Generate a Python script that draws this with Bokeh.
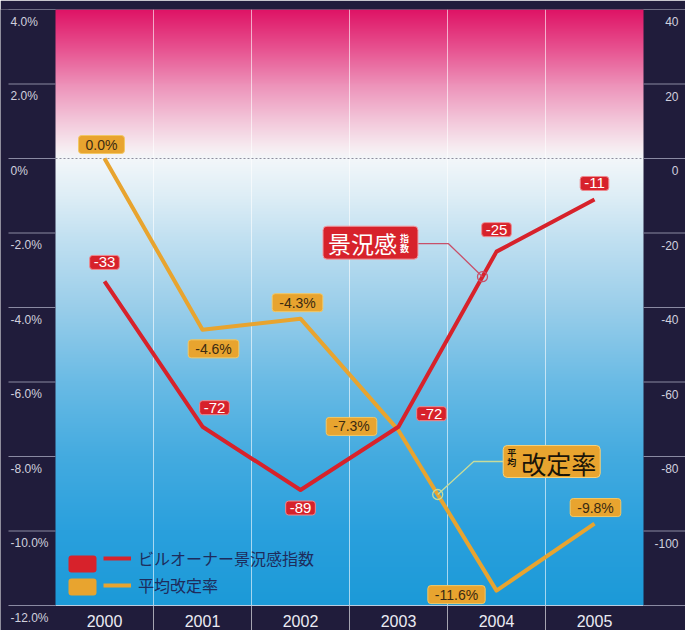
import numpy as np
from bokeh.plotting import figure
from bokeh.models import Range1d, FixedTicker, Legend, LegendItem
from bokeh.core.properties import value
from bokeh.embed import file_html
from bokeh.resources import INLINE

# ---------------- data ----------------
years = ["2000", "2001", "2002", "2003", "2004", "2005"]
index_values = [-33, -72, -89, -72, -25, -11]          # ビルオーナー景況感指数 (right scale)
rate_values = [0.0, -4.6, -4.3, -7.3, -11.6, -9.8]     # 平均改定率 % (left scale)
index_labels = ["-33", "-72", "-89", "-72", "-25", "-11"]
rate_labels = ["0.0%", "-4.6%", "-4.3%", "-7.3%", "-11.6%", "-9.8%"]
left_ticks = [4, 2, 0, -2, -4, -6, -8, -10, -12]
left_tick_labels = ["4.0%", "2.0%", "0%", "-2.0%", "-4.0%", "-6.0%", "-8.0%", "-10.0%", "-12.0%"]
right_ticks = [40, 20, 0, -20, -40, -60, -80, -100, -120]
right_tick_labels = ["40", "20", "0", "-20", "-40", "-60", "-80", "-100"]
series_names = ["ビルオーナー景況感指数", "平均改定率"]

# ---------------- layout / styling ----------------
W, H = 685, 630
BL, BR, BT, BB = 55, 42, 9, 25           # dark margins around the plotting area
FW, FH = W - BL - BR, H - BT - BB
X0, X1 = -0.5, len(years) - 0.5
Y0, Y1 = -12, 4
R0, R1 = -120, 40
PXU = FW / (X1 - X0)                      # pixels per category
PXY = FH / (Y1 - Y0)                      # pixels per percent
X0e, X1e = X0 - BL / PXU, X1 + BR / PXU   # frame covers the dark margins too
Y0e = Y0 - BB / PXY
K = (R1 - R0) / (Y1 - Y0)
R0e = R1 - (Y1 - Y0e) * K
DARK = "#201c3b"
RED = "#d7222b"
ORANGE = "#e8a42f"
TICK = "#8a8aa2"
NUM_FONT = value("Liberation Sans")
JP_FONT = value("Noto Sans CJK JP")

xs = list(range(len(years)))
boundaries = [i + 0.5 for i in range(len(years) - 1)]


def to_px_x(x):
    return BL + (x - X0) * PXU


def to_px_y(y):
    return BT + (Y1 - y) * PXY


def from_px_x(px):
    return X0 + (px - BL) / PXU


def from_px_y(py):
    return Y1 - (py - BT) / PXY


def idx_to_left(v):
    return Y0 + (v - R0) / K


p = figure(width=W, height=H, x_range=Range1d(X0e, X1e), y_range=Range1d(Y0e, Y1),
           output_backend="svg", toolbar_location=None,
           min_border_left=0, min_border_right=0, min_border_top=BT, min_border_bottom=0,
           border_fill_color=DARK, background_fill_color=DARK, outline_line_color=None)
p.extra_y_ranges = {"idx": Range1d(R0e, R1)}
p.xaxis.visible = False
p.yaxis.visible = False

# gradient background of the plotting area
stops_v = [-12, -10, -8, -6, -4, -2, -1, 0, 0.3, 1, 2, 3, 4]
stops_rgb = [(28, 154, 216), (42, 160, 221), (68, 171, 224), (106, 187, 229),
             (154, 206, 234), (197, 226, 242), (222, 238, 246), (243, 247, 250),
             (247, 236, 241), (243, 200, 219), (237, 145, 185), (231, 80, 143),
             (223, 20, 102)]
rows = 600
yy = np.linspace(Y0, Y1, rows)
img = np.zeros((rows, 2), dtype=np.uint32)
view = img.view(dtype=np.uint8).reshape((rows, 2, 4))
for c in range(3):
    col = np.interp(yy, stops_v, [s[c] for s in stops_rgb])
    view[:, :, c] = col[:, None].astype(np.uint8)
view[:, :, 3] = 255
bg = p.image_rgba(image=[img], x=X0, y=Y0, dw=X1 - X0, dh=Y1 - Y0)
bg.level = "image"

# vertical separators between years (continue into the year strip)
p.xgrid.ticker = FixedTicker(ticks=boundaries)
p.xgrid.grid_line_color = "white"
p.xgrid.grid_line_alpha = 0.6
p.ygrid.grid_line_color = None

# dotted zero line and bottom edge of the plotting area
p.segment(x0=[X0], y0=[0], x1=[X1], y1=[0], line_color="#8e8e9e", line_dash="2 2",
          line_width=1)
p.segment(x0=[X0], y0=[Y0], x1=[X1], y1=[Y0], line_color="#b8cce0", line_width=1)

# year labels in the dark strip
p.text(x=xs, y=[Y0] * len(xs), text=years, y_offset=15, text_align="center",
       text_baseline="middle", text_font=NUM_FONT, text_font_size="16px",
       text_color="#ececf4")

# left and right scales: tick lines in the margins, labels just below them
nl, nr = len(left_ticks), len(right_ticks)
p.segment(x0=[X0e + 8 / PXU] * nl, y0=left_ticks, x1=[X0] * nl, y1=left_ticks,
          line_color=TICK, line_width=1)
p.segment(x0=[X1] * nr, y0=right_ticks, x1=[X1e] * nr, y1=right_ticks,
          y_range_name="idx", line_color=TICK, line_width=1)
p.text(x=[X0e + 10 / PXU] * nl, y=left_ticks, text=left_tick_labels, y_offset=12,
       text_align="left", text_baseline="middle", text_font=NUM_FONT,
       text_font_size="12px", text_color="#d0d0de")
nrl = len(right_tick_labels)
p.text(x=[X1e - 7 / PXU] * nrl, y=right_ticks[:nrl], y_range_name="idx",
       text=right_tick_labels, y_offset=12, text_align="right", text_baseline="middle",
       text_font=NUM_FONT, text_font_size="12px", text_color="#d0d0de")

# series lines
orange_line = p.line(x=xs, y=rate_values, line_color=ORANGE, line_width=4, line_join="round")
red_line = p.line(x=xs, y=index_values, y_range_name="idx", line_color=RED, line_width=4,
                  line_join="round")

# value labels
idx_dx = [0, 12, 0, 33, 0, 0]
idx_dy = [-19, -19, 18, -13, -22, -16]
rate_dx = [-3, 11, -3, -47, -40, 1]
rate_dy = [-14, 19, -16, -4, 4, -16]
p.text(x=xs, y=rate_values, text=rate_labels, x_offset=rate_dx, y_offset=rate_dy,
       text_align="center", text_baseline="middle", text_font=NUM_FONT,
       text_font_size="14px", text_color="#3a2a12", background_fill_color=ORANGE,
       border_line_color="#f2c866", border_radius=3, padding=(7, 1))
p.text(x=xs, y=index_values, y_range_name="idx", text=index_labels, x_offset=idx_dx,
       y_offset=idx_dy, text_align="center", text_baseline="middle", text_font=NUM_FONT,
       text_font_size="15px", text_color="white", background_fill_color=RED,
       border_line_color="#ee8a90", border_radius=3, padding=(4, 2))


# callouts naming each line
def callout(anchor_x, anchor_y, elbow, edge, box_c, box_wh, big, big_c, big_size,
            small, small_c, fill, border, txt_color, conn_color):
    ax, ay = to_px_x(anchor_x), to_px_y(anchor_y)
    pts = [(ax, ay), (ax + elbow[0], ay + elbow[1]), (ax + edge[0], ay + edge[1])]
    p.line(x=[from_px_x(a) for a, _ in pts], y=[from_px_y(b) for _, b in pts],
           line_color=conn_color, line_width=1.3)
    p.scatter(x=[anchor_x], y=[anchor_y], marker="circle", size=10, fill_color=None,
              line_color=conn_color, line_width=1.3)
    p.rect(x=[from_px_x(ax + box_c[0])], y=[from_px_y(ay + box_c[1])], width=box_wh[0],
           height=box_wh[1], width_units="screen", height_units="screen",
           fill_color=fill, line_color=border, line_width=1, border_radius=4)
    p.text(x=[from_px_x(ax + big_c[0])], y=[from_px_y(ay + big_c[1])], text=[big],
           text_align="center", text_baseline="middle", text_font=JP_FONT,
           text_font_size=big_size, text_color=txt_color)
    p.text(x=[from_px_x(ax + c[0]) for c in small_c], y=[from_px_y(ay + c[1]) for c in small_c],
           text=list(small), text_align="center", text_baseline="middle", text_font=JP_FONT,
           text_font_size="9px", text_color=txt_color, text_font_style="bold")


t_red = 0.857
red_ax = 3 + t_red
red_ay = idx_to_left(index_values[3] + t_red * (index_values[4] - index_values[3]))
callout(red_ax, red_ay, (-34, -33), (-65, -33), (-112, -34), (95, 33), "景況感",
        (-120, -34), "23px", "指数", [(-78, -38), (-78, -28)], RED, "#f0a0a8", "white",
        "#c8506a")

t_or = 0.4
or_ax = 3 + t_or
or_ay = rate_values[3] + t_or * (rate_values[4] - rate_values[3])
callout(or_ax, or_ay, (36, -33), (66, -33), (114, -33), (97, 32), "改定率",
        (121, -31), "25px", "平均", [(74, -42), (74, -32)], ORANGE, "#f6d27a", "#1a1408",
        "#c8dc9a")

# legend: coloured squares + line samples + names
sq_x = from_px_x(82)
p.rect(x=[sq_x, sq_x], y=[from_px_y(563.5), from_px_y(586.5)], width=28, height=17,
       width_units="screen", height_units="screen", fill_color=[RED, ORANGE],
       line_color=None, border_radius=3)
legend = Legend(items=[LegendItem(label=series_names[0], renderers=[red_line]),
                       LegendItem(label=series_names[1], renderers=[orange_line])],
                location=(BL + 48, BB + 8), orientation="vertical", glyph_width=28,
                glyph_height=20, label_height=20, spacing=3, padding=0, margin=0,
                background_fill_alpha=0, border_line_color=None, label_standoff=7,
                label_text_font="Noto Sans CJK JP", label_text_font_size="16px",
                label_text_color="#1e2c5c")
p.add_layout(legend)

open("out.html", "w").write(file_html(p, INLINE))
